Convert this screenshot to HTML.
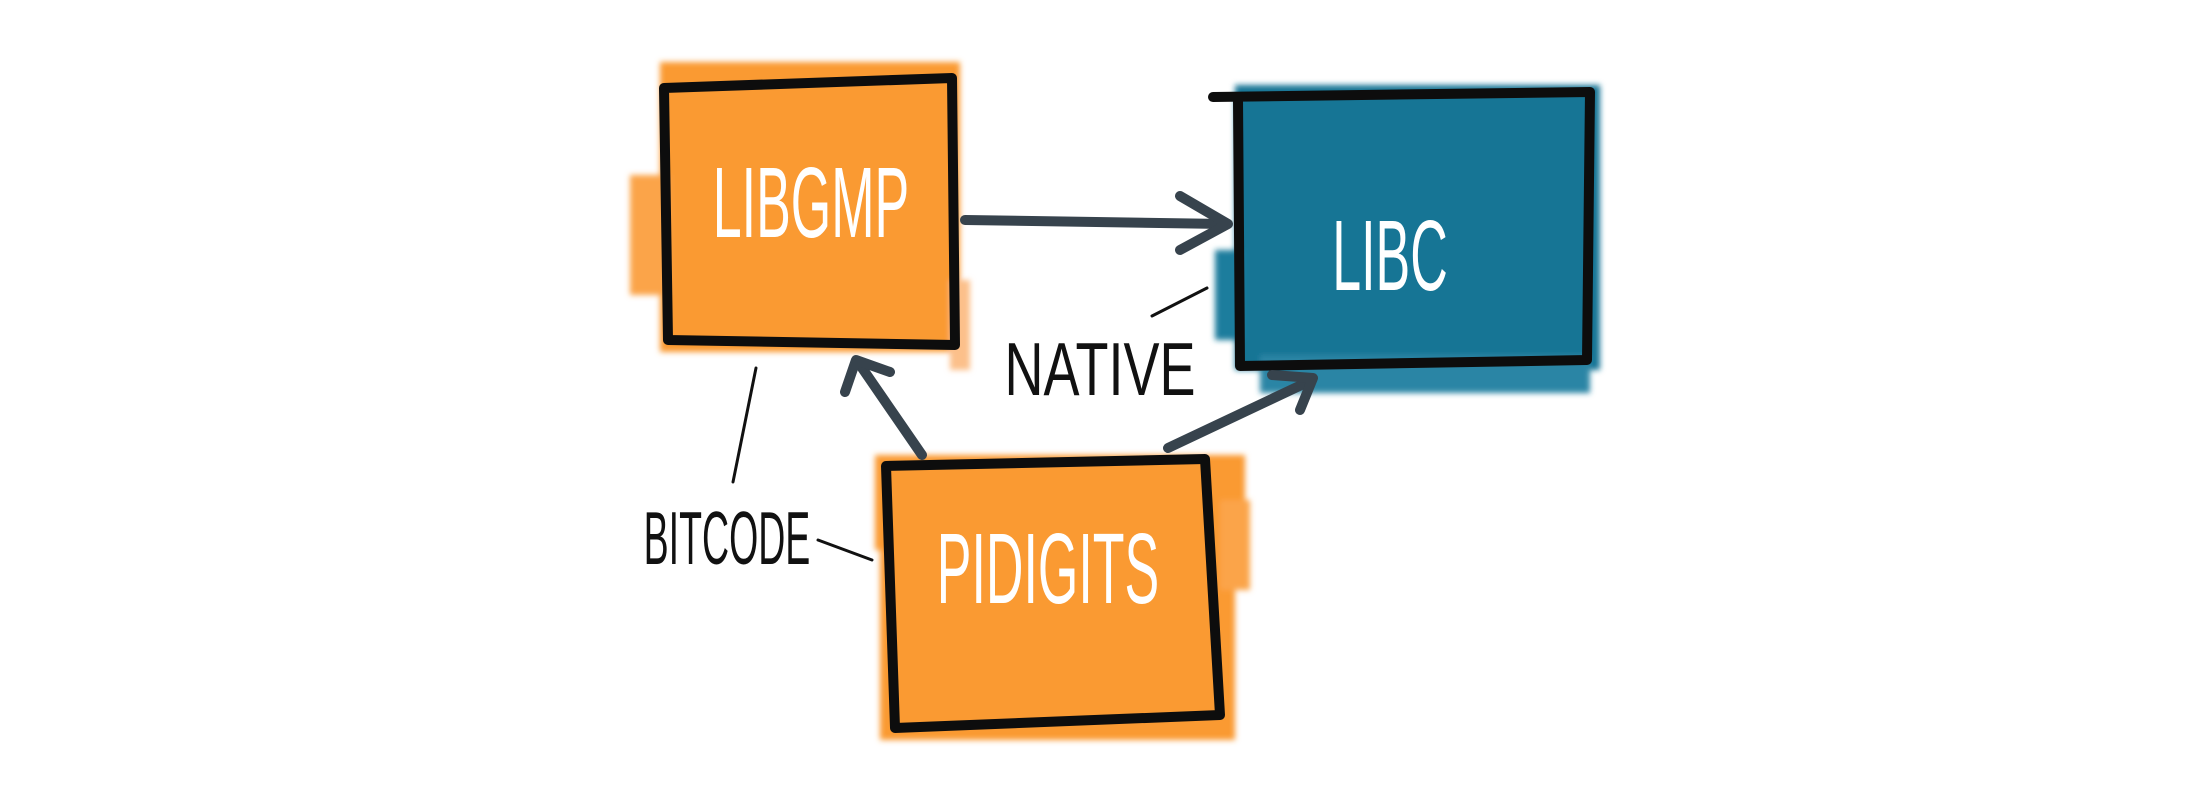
<!DOCTYPE html>
<html><head><meta charset="utf-8"><style>
html,body{margin:0;padding:0;background:#fff;}
body{width:2200px;height:800px;position:relative;overflow:hidden;}
svg{position:absolute;left:0;top:0;}
text{font-family:"Liberation Sans",sans-serif;}
</style></head><body>
<svg width="2200" height="800" viewBox="0 0 2200 800">
<defs>
<filter id="blur" x="-10%" y="-10%" width="120%" height="120%"><feGaussianBlur stdDeviation="3"/></filter>
</defs>
<g filter="url(#blur)">
<rect x="660" y="62" width="300" height="290" fill="#fa9a30"/>
<rect x="630" y="175" width="40" height="120" fill="#fba448"/>
<rect x="950" y="280" width="20" height="90" fill="#fcc08a"/>
<rect x="1235" y="85" width="365" height="285" fill="#157595"/>
<rect x="1215" y="250" width="30" height="90" fill="#1d7d9d"/>
<rect x="1260" y="355" width="330" height="38" fill="#2a85a5"/>
<rect x="875" y="455" width="370" height="95" fill="#fa9a30"/>
<rect x="880" y="455" width="355" height="285" fill="#fa9a30"/>
<rect x="1220" y="500" width="30" height="90" fill="#fba448"/>
</g>
<g fill="none" stroke="#0d0d0d" stroke-width="10" stroke-linejoin="round" stroke-linecap="round">
<path d="M664 88 L952 78 L955 345 L668 340 Z"/>
<path d="M1213 97 L1590 92 L1587 360 L1240 366 L1238 100"/>
<path d="M886 466 L1205 459 L1220 715 L895 728 Z"/>
</g>
<g fill="none" stroke="#37434d" stroke-width="10" stroke-linecap="round" stroke-linejoin="round">
<path d="M965 220 L1225 224"/>
<path d="M1180 196 L1228 224 L1180 250"/>
<path d="M922 455 L858 362"/>
<path d="M845 392 L856 360 L890 372"/>
<path d="M1168 448 L1312 380"/>
<path d="M1272 375 L1313 378 L1300 410"/>
</g>
<g fill="none" stroke="#111" stroke-width="3" stroke-linecap="round">
<path d="M1152 316 L1207 288"/>
<path d="M756 368 L733 482"/>
<path d="M818 540 L872 560"/>
</g>
<g font-size="100" fill="#fff" text-anchor="middle">
<text x="811" y="237" transform="translate(811 0) scale(0.52 1) translate(-811 0)">LIBGMP</text>
<text x="1390" y="290" transform="translate(1390 0) scale(0.52 1) translate(-1390 0)">LIBC</text>
<text x="1048" y="603" transform="translate(1048 0) scale(0.52 1) translate(-1048 0)">PIDIGITS</text>
</g>
<g font-size="75" fill="#111" text-anchor="middle">
<text x="1100" y="395" transform="translate(1100 0) scale(0.72 1) translate(-1100 0)">NATIVE</text>
<text x="727" y="564" transform="translate(727 0) scale(0.5 1) translate(-727 0)">BITCODE</text>
</g>
</svg>
</body></html>
